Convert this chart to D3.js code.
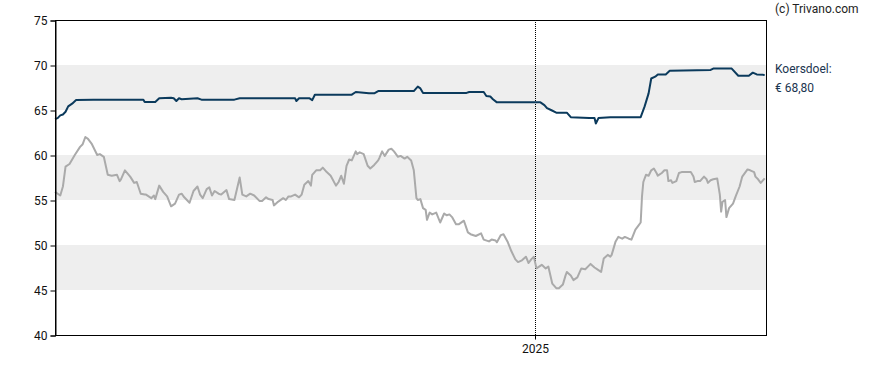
<!DOCTYPE html>
<html>
<head>
<meta charset="utf-8">
<script src="https://cdn.jsdelivr.net/npm/d3@7"></script>
<style>
  body { margin: 0; background: #fff; }
  text { font-family: Roboto, "Noto Sans", sans-serif; }
</style>
</head>
<body>
<div class="chart"></div>
<script>
// data (dagen sinds startDatum)
const startDatum = "2024-01-03"
const eindDatum = "2025-06-25"
const yTicks = [40, 45, 50, 55, 60, 65, 70, 75]
const banden = [[45, 50], [55, 60], [65, 70]]
const jaarTicks = ["2025-01-01"]

const koersDagen = [0, 4, 6, 8, 11, 15, 19, 21, 23, 25, 28, 32, 34, 37, 40, 43, 47, 49, 50, 53, 57, 60, 62, 65, 68, 69, 73, 75, 76, 79, 82, 85, 88, 91, 94, 96, 98, 102, 105, 108, 110, 112, 115, 117, 119, 121, 124, 126, 130, 132, 136, 140, 142, 145, 148, 151, 155, 157, 160, 162, 165, 166, 169, 173, 175, 177, 179, 182, 185, 187, 189, 192, 194, 195, 198, 201, 203, 206, 209, 213, 215, 217, 219, 221, 223, 225, 228, 229, 231, 234, 237, 239, 242, 245, 246, 248, 250, 253, 255, 257, 260, 262, 265, 267, 270, 272, 274, 275, 277, 279, 281, 282, 284, 286, 289, 292, 295, 297, 299, 301, 304, 306, 310, 313, 315, 319, 323, 325, 329, 331, 334, 335, 338, 340, 343, 346, 349, 351, 354, 357, 359, 361, 363, 365, 367, 369, 372, 374, 377, 380, 382, 385, 387, 388, 391, 393, 396, 399, 402, 404, 406, 409, 412, 414, 416, 419, 421, 422, 425, 427, 430, 432, 435, 437, 440, 442, 444, 445, 446, 448, 450, 452, 454, 456, 457, 460, 462, 464, 465, 467, 468, 471, 473, 475, 478, 482, 484, 485, 487, 489, 492, 494, 495, 497, 499, 502, 504, 505, 506, 508, 509, 511, 514, 516, 519, 521, 525, 527, 530, 531, 533, 535, 538]
const koersWaarden = [55.9, 55.5, 56.5, 58.7, 59.0, 60.0, 60.9, 61.2, 62.0, 61.8, 61.2, 60.0, 60.1, 59.8, 57.8, 57.7, 57.8, 57.1, 57.3, 58.3, 57.6, 56.9, 57.0, 55.7, 55.6, 55.6, 55.2, 55.5, 55.1, 56.6, 55.9, 55.4, 54.3, 54.6, 55.6, 55.7, 55.3, 54.7, 56.0, 56.5, 55.6, 55.2, 56.2, 56.4, 55.5, 56.0, 55.7, 55.6, 56.1, 55.1, 55.0, 57.5, 55.6, 55.4, 55.7, 55.5, 54.9, 54.9, 55.3, 55.1, 55.0, 54.4, 54.8, 55.2, 55.0, 55.4, 55.4, 55.6, 55.3, 55.6, 56.7, 57.1, 56.6, 57.8, 58.3, 58.3, 58.6, 58.1, 57.7, 56.6, 57.0, 57.7, 56.8, 58.8, 59.5, 59.4, 60.4, 60.1, 60.3, 60.1, 58.8, 58.5, 58.9, 59.4, 59.7, 60.4, 59.9, 60.6, 60.7, 60.4, 59.8, 59.9, 59.6, 59.8, 59.4, 58.3, 55.2, 55.0, 55.1, 54.1, 53.9, 52.8, 53.6, 53.4, 53.6, 52.5, 53.5, 53.3, 53.4, 53.1, 52.3, 52.3, 52.7, 51.4, 51.2, 51.0, 51.3, 50.6, 50.4, 50.6, 50.5, 50.3, 51.1, 51.2, 50.4, 49.3, 48.4, 48.1, 48.3, 48.7, 48.0, 48.4, 48.7, 47.4, 47.6, 47.8, 47.4, 47.6, 45.7, 45.2, 45.2, 45.6, 46.6, 47.0, 46.6, 46.1, 46.4, 47.4, 47.3, 47.6, 47.9, 47.5, 47.2, 47.0, 48.5, 48.9, 48.7, 48.9, 50.4, 50.9, 50.7, 50.9, 50.7, 50.6, 51.7, 52.1, 52.5, 55.4, 57.0, 57.8, 57.7, 58.3, 58.5, 58.0, 57.7, 58.0, 58.3, 58.3, 57.1, 57.2, 56.9, 57.1, 58.0, 58.1, 58.1, 58.1, 57.6, 57.0, 57.1, 57.1, 57.6, 57.3, 56.9, 57.2, 57.3, 57.4, 55.6, 53.7, 54.8, 55.0, 53.1, 54.1, 54.6, 55.4, 56.5, 57.6, 58.4, 58.3, 58.1, 57.6, 57.3, 56.9, 57.4]

const doelDagen = [0, 2, 4, 6, 8, 10, 13, 16, 29, 67, 68, 76, 79, 88, 90, 92, 94, 96, 108, 111, 136, 140, 182, 183, 185, 193, 195, 197, 225, 228, 232, 238, 242, 245, 272, 275, 277, 279, 312, 314, 325, 327, 330, 332, 335, 368, 371, 373, 376, 380, 388, 391, 405, 409, 410, 412, 421, 444, 447, 450, 452, 455, 457, 463, 466, 497, 499, 513, 518, 526, 529, 532, 538]
const doelWaarden = [64.0, 64.1, 64.4, 64.5, 64.8, 65.4, 65.7, 66.1, 66.15, 66.15, 65.9, 65.9, 66.3, 66.35, 66.3, 66.0, 66.3, 66.2, 66.3, 66.15, 66.15, 66.3, 66.3, 66.0, 66.3, 66.3, 66.1, 66.7, 66.7, 67.0, 66.95, 66.85, 66.85, 67.1, 67.1, 67.6, 67.4, 66.9, 66.9, 67.0, 67.0, 66.55, 66.5, 66.2, 65.85, 65.85, 65.55, 65.2, 65.0, 64.7, 64.7, 64.2, 64.1, 64.1, 63.5, 64.1, 64.2, 64.2, 65.4, 66.85, 68.5, 68.7, 68.95, 68.95, 69.35, 69.45, 69.6, 69.6, 68.8, 68.8, 69.15, 68.95, 68.9]

const doelLabel = ["Koersdoel:", "\u20ac 68,80"]
const copyright = "(c) Trivano.com"

// svg
const margin = { left: 55, right: 122, top: 20, bottom: 35 }
const WIDTH = 888
const HEIGHT = 370

const svg = d3.select(".chart")
    .append("svg")
    .attr("width", WIDTH)
    .attr("height", HEIGHT)

const start = d3.isoParse(startDatum + "T00:00:00Z")
const toDatum = (d) => d3.utcDay.offset(start, d)

const x = d3.scaleUtc()
    .domain([start, d3.isoParse(eindDatum + "T00:00:00Z")])
    .range([margin.left, WIDTH - margin.right])

const y = d3.scaleLinear()
    .domain([40, 75])
    .range([HEIGHT - margin.bottom, margin.top])

// banden
svg.append("g")
    .selectAll("rect")
    .data(banden)
    .join("rect")
    .attr("x", margin.left)
    .attr("width", WIDTH - margin.right - margin.left)
    .attr("y", (d) => y(d[1]))
    .attr("height", (d) => y(d[0]) - y(d[1]))
    .attr("fill", "#eeeeee")

// jaarlijn
const jaren = jaarTicks.map((d) => d3.isoParse(d + "T00:00:00Z"))
svg.append("g")
    .selectAll("line")
    .data(jaren)
    .join("line")
    .attr("x1", (d) => Math.floor(x(d)) + 0.5)
    .attr("x2", (d) => Math.floor(x(d)) + 0.5)
    .attr("y1", margin.top)
    .attr("y2", HEIGHT - margin.bottom)
    .attr("stroke", "#000")
    .attr("stroke-width", 1)
    .attr("stroke-dasharray", "1,1")

// lijnen
const lijn = d3.line()
    .x((d) => x(toDatum(d[0])))
    .y((d) => y(d[1]))

svg.append("path")
    .datum(d3.zip(koersDagen, koersWaarden))
    .attr("d", lijn)
    .attr("fill", "none")
    .attr("stroke", "#aaaaaa")
    .attr("stroke-width", 2)
    .attr("stroke-linejoin", "round")

svg.append("path")
    .datum(d3.zip(doelDagen, doelWaarden))
    .attr("d", lijn)
    .attr("fill", "none")
    .attr("stroke", "#0b3a5c")
    .attr("stroke-width", 2)
    .attr("stroke-linejoin", "round")

// kader
svg.append("rect")
    .attr("x", margin.left + 0.5)
    .attr("y", margin.top + 0.5)
    .attr("width", WIDTH - margin.right - margin.left)
    .attr("height", HEIGHT - margin.bottom - margin.top)
    .attr("fill", "none")
    .attr("stroke", "#000")
    .attr("stroke-width", 1)

// assen
const yAs = svg.append("g")
    .attr("transform", `translate(${margin.left + 0.5} 0.5)`)
    .call(d3.axisLeft(y).tickValues(yTicks).tickSize(5).tickPadding(3))
yAs.select(".domain").attr("stroke", "#000")
yAs.selectAll(".tick text")
    .style("font-size", "12px")
    .attr("fill", "#111")

const xAs = svg.append("g")
    .attr("transform", `translate(0 ${HEIGHT - margin.bottom + 0.5})`)
    .call(d3.axisBottom(x).tickValues(jaren).tickSize(4).tickPadding(5).tickFormat(d3.utcFormat("%Y")))
xAs.select(".domain").remove()
xAs.selectAll(".tick").attr("transform", (d) => `translate(${Math.floor(x(d)) + 0.5},0)`)
xAs.selectAll(".tick line").attr("stroke", "#000")
xAs.selectAll(".tick text")
    .style("font-size", "12px")
    .attr("fill", "#111")

// teksten
svg.append("text")
    .attr("x", 775)
    .attr("y", 13)
    .style("font-size", "12px")
    .attr("fill", "#222")
    .text(copyright)

svg.selectAll(".doel")
    .data(doelLabel)
    .join("text")
    .attr("class", "doel")
    .attr("x", 775)
    .attr("y", (_, i) => 73 + i * 19)
    .style("font-size", "12px")
    .attr("fill", "#1b3550")
    .text((d) => d)
</script>
</body>
</html>
